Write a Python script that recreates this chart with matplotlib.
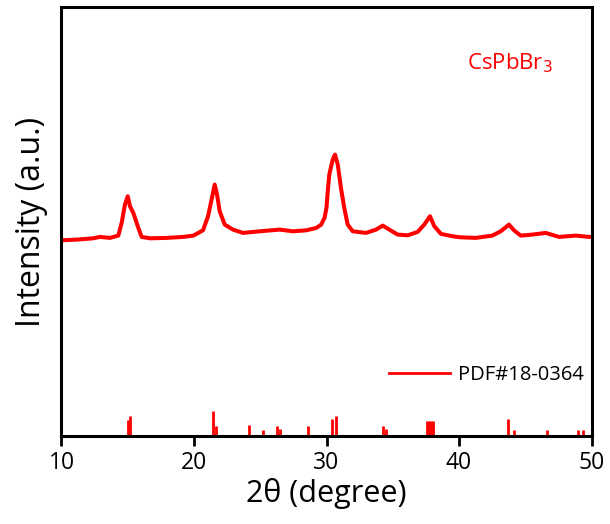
import matplotlib
matplotlib.use("Agg")
import matplotlib.pyplot as plt
from matplotlib.lines import Line2D

plt.rcParams['font.family'] = ['Open Sans', 'DejaVu Sans']

# XRD pattern (2theta in degrees, intensity in arbitrary units)
two_theta = [10.0, 11.15, 12.4, 12.9, 13.66, 14.29, 14.54, 14.79, 15.0, 15.17, 15.42,
             15.8, 16.05, 16.68, 17.94, 19.19, 19.95, 20.68, 21.06, 21.38, 21.56, 21.74,
             21.94, 22.32, 22.94, 23.7, 24.96, 26.47, 27.47, 28.48, 29.23, 29.6, 29.86,
             30.0, 30.1, 30.21, 30.47, 30.64, 30.85, 31.09, 31.34, 31.6, 31.98, 32.98, 33.74,
             34.24, 34.74, 35.37, 36.13, 36.88, 37.38, 37.81, 38.14, 38.64, 39.52, 40.1,
             41.26, 42.51, 43.15, 43.77, 44.15, 44.66, 45.53, 46.54, 47.55, 48.81, 49.81, 50.0]
intensity = [195.3, 196.0, 197.3, 198.7, 197.7, 200.0, 212.7, 231.0, 239.3, 229.3, 222.7,
             207.7, 198.7, 197.3, 197.7, 198.7, 200.0, 205.3, 219.3, 239.3, 251.0, 241.0,
             224.3, 211.0, 206.0, 202.7, 204.3, 206.0, 204.3, 205.3, 207.7, 211.0, 218.0,
             228.0, 245.0, 261.0, 276.0, 281.0, 271.0, 247.7, 227.7, 211.0, 204.3, 202.7, 206.0,
             210.0, 206.0, 201.0, 200.3, 203.7, 211.0, 219.3, 209.3, 201.7, 199.3, 198.3,
             197.7, 200.0, 204.3, 211.0, 205.3, 200.0, 201.0, 202.7, 198.7, 200.0, 198.7, 198.7]

# Reference pattern PDF#18-0364 (stick positions and relative heights)
ref_pos = [15.05, 15.2, 21.46, 21.64, 24.17, 25.23, 26.3, 26.5, 28.58, 30.39, 30.69,
           34.24, 34.49, 37.6, 37.75, 37.9, 38.0, 43.68, 44.15, 46.62, 49.0, 49.38]
ref_int = [16, 20, 25, 10, 11, 6, 10, 7, 10, 17, 20,
           10, 7, 15, 15, 15, 15, 17, 6, 6, 6, 6]

red = '#ff0000'

fig = plt.figure(figsize=(6.10, 5.24), dpi=100)
ax = fig.add_axes([0.1008, 0.1685, 0.8689, 0.8172])

ax.plot(two_theta, intensity, color=red, lw=2.9, solid_joinstyle='round')
ax.vlines(ref_pos, 0, ref_int, color=red, lw=2.0)

ax.set_xlim(10, 50)
ax.set_ylim(0, 428)
ax.set_xticks([10, 20, 30, 40, 50])
ax.set_yticks([])
ax.tick_params(axis='x', direction='out', length=7, width=2, labelsize=16.5, pad=4)
for s in ax.spines.values():
    s.set_linewidth(2.2)

ax.set_xlabel('2θ (degree)', fontsize=22, labelpad=2)
ax.set_ylabel('Intensity (a.u.)', fontsize=23, labelpad=10)

ax.text(0.927, 0.87, r'CsPbBr$_3$', transform=ax.transAxes, color=red,
        fontsize=16, ha='right', va='center')

handle = Line2D([], [], color=red, lw=2.0)
ax.legend([handle], ['PDF#18-0364'], loc='center right', bbox_to_anchor=(0.985, 0.1425),
          frameon=False, fontsize=14.5, handlelength=3.0, handletextpad=0.4, borderpad=0,
          borderaxespad=0)

fig.savefig('out.png', dpi=100)
